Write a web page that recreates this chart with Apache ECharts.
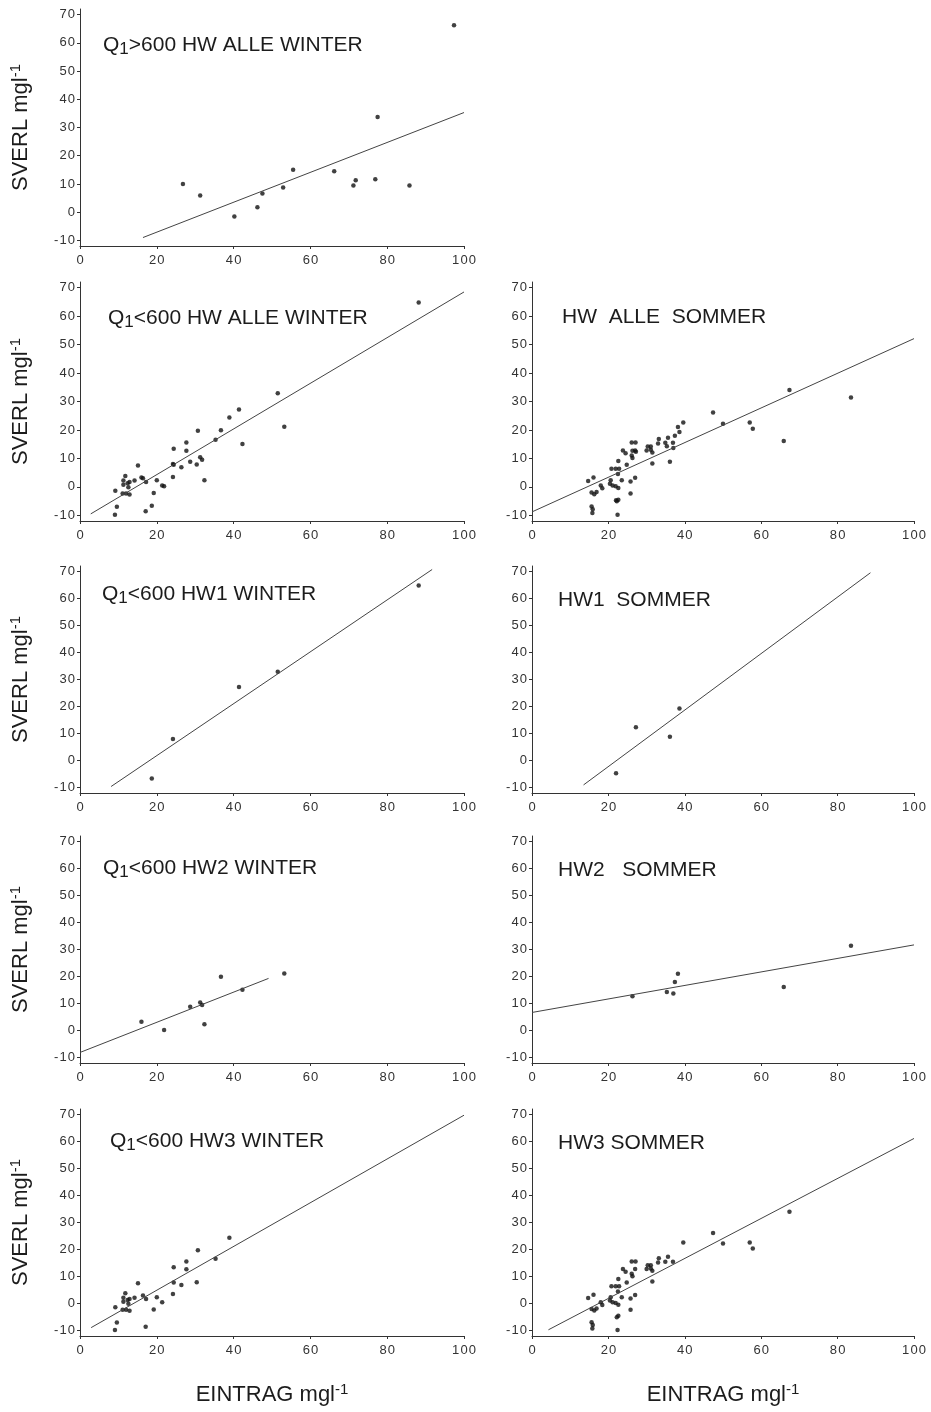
<!DOCTYPE html>
<html><head><meta charset="utf-8">
<script src="https://cdn.jsdelivr.net/npm/echarts@6/dist/echarts.min.js"></script>
<style>html,body{margin:0;padding:0;background:#fff}#c{width:931px;height:1412px}</style>
</head><body><div id="c"></div>
<script>
// ---------- tick labels ----------
const xTicks = [0, 20, 40, 60, 80, 100];
const yTicks = [-10, 0, 10, 20, 30, 40, 50, 60, 70];

// ---------- panel titles ----------
const titleTexts = [
  '{n|Q}{s|1}{n|>600 HW ALLE WINTER}',
  '{n|Q}{s|1}{n|<600 HW ALLE WINTER}',
  '{n|HW  ALLE  SOMMER}',
  '{n|Q}{s|1}{n|<600 HW1 WINTER}',
  '{n|HW1  SOMMER}',
  '{n|Q}{s|1}{n|<600 HW2 WINTER}',
  '{n|HW2   SOMMER}',
  '{n|Q}{s|1}{n|<600 HW3 WINTER}',
  '{n|HW3 SOMMER}'
];
const yName = '{n|SVERL mgl}{s|-1}';
const xName = '{n|EINTRAG mgl}{s|-1}';

// ---------- data: [EINTRAG, SVERL] ----------
const q1gtAlleWinter = [
  [26.8, 10.0], [31.3, 5.9], [40.2, -1.5], [46.2, 1.7], [47.5, 6.6], [52.9, 8.7],
  [55.5, 15.0], [66.2, 14.5], [71.2, 9.4], [71.8, 11.3], [76.9, 11.7], [77.5, 33.7],
  [85.8, 9.4], [97.4, 66.2]
];
const hw1Winter = [[18.7, -6.6], [24.2, 8.0], [41.4, 27.2], [51.5, 32.9], [88.2, 64.8]];
const hw2Winter = [
  [16.0, 3.3], [21.9, 0.2], [28.7, 8.8], [31.3, 10.4], [31.8, 9.5], [32.4, 2.3],
  [36.7, 19.9], [42.3, 15.1], [53.2, 21.1]
];
const hw3Winter = [
  [9.1, -9.8], [9.6, -7.0], [9.2, -1.4], [11.1, -2.3], [12.0, -2.3], [12.9, -2.7],
  [11.3, 0.7], [12.6, -0.1], [11.3, 2.2], [12.4, 1.3], [11.8, 3.8], [12.9, 1.7],
  [14.2, 2.2], [15.1, 7.5], [16.4, 3.0], [17.2, 1.7], [17.1, -8.6], [19.2, -2.2],
  [20.0, 2.3], [21.4, 0.5], [24.2, 3.5], [24.4, 7.8], [24.4, 13.4], [26.4, 6.9],
  [27.7, 12.7], [27.7, 15.6], [30.4, 7.9], [30.7, 19.7], [35.3, 16.6], [38.9, 24.4]
];
const hw1Sommer = [[22.0, -4.7], [27.2, 12.3], [36.1, 8.8], [38.6, 19.3]];
const hw2Sommer = [
  [26.3, 12.7], [35.3, 14.3], [37.0, 13.7], [37.4, 18.0], [38.2, 21.0], [65.9, 16.1], [83.5, 31.4]
];
const hw3Sommer = [
  [15.6, -6.9], [15.9, -7.9], [15.8, -9.2], [15.6, -2.0], [16.3, -2.6], [16.9, -1.8],
  [14.7, 2.1], [16.1, 3.3], [18.0, 0.5], [18.4, -0.5], [20.6, 2.3], [20.4, 1.1],
  [21.1, 0.5], [21.9, 0.2], [22.6, -0.4], [22.6, -4.5], [22.2, -5.1], [22.4, -9.8],
  [20.8, 6.4], [21.9, 6.4], [22.8, 6.4], [22.5, 4.5], [23.5, 2.3], [25.8, 1.9],
  [27.0, 3.2], [25.8, -2.3], [22.6, 9.1], [23.8, 12.8], [24.5, 11.8], [24.8, 7.8],
  [26.1, 15.6], [27.1, 15.6], [27.0, 12.8], [26.1, 11.0], [26.3, 10.1], [30.0, 12.8],
  [30.3, 14.2], [31.1, 14.2], [31.1, 13.0], [31.5, 12.1], [31.5, 8.2], [33.0, 15.2],
  [33.2, 16.8], [34.9, 15.5], [35.6, 17.3], [36.9, 15.5], [39.6, 22.6], [47.4, 26.1],
  [50.0, 22.2], [57.0, 22.6], [57.8, 20.4], [67.4, 34.0]
];
const alleWinter = hw1Winter.concat(hw2Winter, hw3Winter);
const alleSommer = hw1Sommer.concat(hw2Sommer, hw3Sommer);

// ---------- regression line end points ----------
const fitQ1gtAlleWinter = [[16.4, -9.0], [100, 35.3]];
const fitAlleWinter = [[2.8, -9.5], [100, 68.5]];
const fitAlleSommer = [[0, -8.8], [100, 52.1]];
const fitHw1Winter = [[8.1, -9.6], [91.7, 70.7]];
const fitHw1Sommer = [[13.5, -9.0], [88.6, 69.5]];
const fitHw2Winter = [[0, -8.1], [49.1, 19.3]];
const fitHw2Sommer = [[0, 6.7], [100, 31.7]];
const fitHw3Winter = [[2.9, -8.9], [100, 69.7]];
const fitHw3Sommer = [[4.3, -9.7], [100, 61.1]];

// ---------- layout ----------
const colLeft = [80, 532];
const colWidth = [384, 382];
const rowTop = [9, 282, 566, 836, 1109];
const rowHeight = [237, 239, 227, 227, 227];
const panels = [
  { row: 0, col: 0, t: 0, pts: q1gtAlleWinter, fit: fitQ1gtAlleWinter, tx: 103, ty: 45 },
  { row: 1, col: 0, t: 1, pts: alleWinter, fit: fitAlleWinter, tx: 108, ty: 318 },
  { row: 1, col: 1, t: 2, pts: alleSommer, fit: fitAlleSommer, tx: 562, ty: 317 },
  { row: 2, col: 0, t: 3, pts: hw1Winter, fit: fitHw1Winter, tx: 102, ty: 594 },
  { row: 2, col: 1, t: 4, pts: hw1Sommer, fit: fitHw1Sommer, tx: 558, ty: 600 },
  { row: 3, col: 0, t: 5, pts: hw2Winter, fit: fitHw2Winter, tx: 103, ty: 868 },
  { row: 3, col: 1, t: 6, pts: hw2Sommer, fit: fitHw2Sommer, tx: 558, ty: 870 },
  { row: 4, col: 0, t: 7, pts: hw3Winter, fit: fitHw3Winter, tx: 110, ty: 1141 },
  { row: 4, col: 1, t: 8, pts: hw3Sommer, fit: fitHw3Sommer, tx: 558, ty: 1143 }
];

const FONT = 'Liberation Sans';
const INK = '#1c1c1c';
const AX = '#333';
const spaced = v => String(v).split('').join('\u200A');
const nameRich = {
  n: { fontSize: 22, fontFamily: FONT, fontWeight: 'normal', color: INK, lineHeight: 26 },
  s: { fontSize: 15, fontFamily: FONT, fontWeight: 'normal', color: INK, lineHeight: 16, verticalAlign: 'top' }
};
const titleRich = {
  n: { fontSize: 21, fontFamily: FONT, fontWeight: 'normal', color: INK, lineHeight: 26 },
  s: { fontSize: 17, fontFamily: FONT, fontWeight: 'normal', color: INK, lineHeight: 19, verticalAlign: 'bottom' }
};

const grid = [], xAxis = [], yAxis = [], series = [], title = [];
panels.forEach((p, i) => {
  grid.push({ left: colLeft[p.col], width: colWidth[p.col], top: rowTop[p.row], height: rowHeight[p.row] });
  xAxis.push({
    gridIndex: i, type: 'value', min: 0, max: 100, interval: 20,
    axisLine: { show: true, onZero: false, lineStyle: { color: AX, width: 1 } },
    axisTick: { show: true, length: 3, lineStyle: { color: AX } },
    axisLabel: { color: AX, fontSize: 13, fontFamily: FONT, margin: 8, formatter: spaced },
    splitLine: { show: false },
    name: p.row === 4 ? xName : '', nameLocation: 'middle', nameGap: 46,
    nameTextStyle: { rich: nameRich }
  });
  yAxis.push({
    gridIndex: i, type: 'value', min: -12, max: 72,
    axisLine: { show: true, onZero: false, lineStyle: { color: AX, width: 1 } },
    axisTick: { show: true, length: 3, customValues: yTicks, lineStyle: { color: AX } },
    axisLabel: { customValues: yTicks, color: AX, fontSize: 13, fontFamily: FONT, margin: 5, formatter: spaced },
    splitLine: { show: false },
    name: p.col === 0 ? yName : '', nameLocation: 'middle', nameGap: 46, nameRotate: 90,
    nameTextStyle: { rich: nameRich }
  });
  series.push({
    type: 'scatter', xAxisIndex: i, yAxisIndex: i, data: p.pts,
    symbol: 'circle', symbolSize: 4.5, itemStyle: { color: '#111' }, silent: true
  });
  series.push({
    type: 'line', xAxisIndex: i, yAxisIndex: i, data: p.fit,
    showSymbol: false, symbol: 'none', lineStyle: { color: '#444', width: 1 }, silent: true
  });
  title.push({
    text: titleTexts[p.t], left: p.tx, top: p.ty - 13, padding: 0,
    textStyle: { fontWeight: 'normal', fontSize: 21, fontFamily: FONT, color: INK, rich: titleRich }
  });
});

const chart = echarts.init(document.getElementById('c'));
chart.setOption({ backgroundColor: '#fff', animation: false, title, grid, xAxis, yAxis, series });
</script></body></html>
